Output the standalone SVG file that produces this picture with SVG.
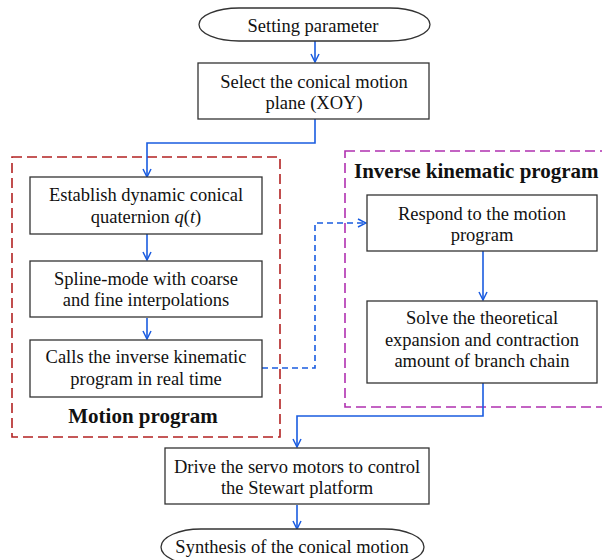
<svg xmlns="http://www.w3.org/2000/svg" width="602" height="560" viewBox="0 0 602 560">
<style>
.box{fill:#fff;stroke:#333;stroke-width:1.3}
text.lbl{font-family:"Liberation Serif","Times New Roman",serif;font-size:18.5px;font-weight:normal;fill:#111;text-anchor:middle}
text.hd{font-family:"Liberation Serif","Times New Roman",serif;font-size:21px;font-weight:bold;fill:#111}
.c{fill:none;stroke:#1a5ce0;stroke-width:1.6}
.cd{fill:none;stroke:#1a5ce0;stroke-width:1.6;stroke-dasharray:6 4}
.grpR{fill:none;stroke:#b22222;stroke-width:1.6;stroke-dasharray:10 5}
.grpM{fill:none;stroke:#b030b0;stroke-width:1.6;stroke-dasharray:10 5}
</style>
<defs>
<marker id="arr" viewBox="0 0 10 10" refX="9" refY="5" markerWidth="10" markerHeight="10" markerUnits="userSpaceOnUse" orient="auto">
<path d="M1,1 L9,5 L1,9" fill="none" stroke="#1a5ce0" stroke-width="1.5"/>
</marker>
</defs>
<rect width="602" height="560" fill="#fff"/>
<g id="groups">
<rect class="grpR" x="12" y="157" width="268" height="280"/>
<rect class="grpM" x="345" y="151" width="265" height="256"/>
<text class="hd" x="143" y="423" text-anchor="middle">Motion program</text>
<text class="hd" x="354" y="178">Inverse kinematic program</text>
</g>
<g id="connectors">
<path class="c" d="M315,41 V62" marker-end="url(#arr)"/>
<path class="c" d="M315,119 V143 H147 V177" marker-end="url(#arr)"/>
<path class="c" d="M147,234 V260" marker-end="url(#arr)"/>
<path class="c" d="M147,318 V339" marker-end="url(#arr)"/>
<path class="cd" d="M262,368 H315 V223 H366" marker-end="url(#arr)"/>
<path class="c" d="M483,251 V300" marker-end="url(#arr)"/>
<path class="c" d="M483,383 V416 H297 V447" marker-end="url(#arr)"/>
<path class="c" d="M297,505 V529" marker-end="url(#arr)"/>
</g>
<g id="start">
<rect class="box" x="199" y="8" width="231" height="33" rx="40" ry="16.5"/>
<text class="lbl" x="313" y="32">Setting parameter</text>
</g>
<g id="select">
<rect class="box" x="198" y="63" width="231" height="56"/>
<text class="lbl" x="314" y="87.5">Select the conical motion</text>
<text class="lbl" x="314" y="109">plane (XOY)</text>
</g>
<g id="establish">
<rect class="box" x="30" y="177" width="232" height="57"/>
<text class="lbl" x="146" y="201">Establish dynamic conical</text>
<text class="lbl" x="146" y="222.5">quaternion <tspan font-style="italic">q</tspan>(<tspan font-style="italic">t</tspan>)</text>
</g>
<g id="spline">
<rect class="box" x="30" y="261" width="232" height="56"/>
<text class="lbl" x="146" y="284.5">Spline-mode with coarse</text>
<text class="lbl" x="146" y="306">and fine interpolations</text>
</g>
<g id="calls">
<rect class="box" x="30" y="340" width="232" height="57"/>
<text class="lbl" x="146" y="363">Calls the inverse kinematic</text>
<text class="lbl" x="146" y="385">program in real time</text>
</g>
<g id="respond">
<rect class="box" x="367" y="195" width="230" height="56"/>
<text class="lbl" x="482" y="219.5">Respond to the motion</text>
<text class="lbl" x="482" y="241">program</text>
</g>
<g id="solve">
<rect class="box" x="367" y="301" width="230" height="82"/>
<text class="lbl" x="482" y="324">Solve the theoretical</text>
<text class="lbl" x="482" y="345.5">expansion and contraction</text>
<text class="lbl" x="482" y="367">amount of branch chain</text>
</g>
<g id="drive">
<rect class="box" x="165" y="448" width="264" height="56"/>
<text class="lbl" x="297" y="472.5">Drive the servo motors to control</text>
<text class="lbl" x="297" y="494">the Stewart platform</text>
</g>
<g id="end">
<rect class="box" x="161" y="529" width="263" height="36" rx="40" ry="18"/>
<text class="lbl" x="292" y="553">Synthesis of the conical motion</text>
</g>
</svg>
